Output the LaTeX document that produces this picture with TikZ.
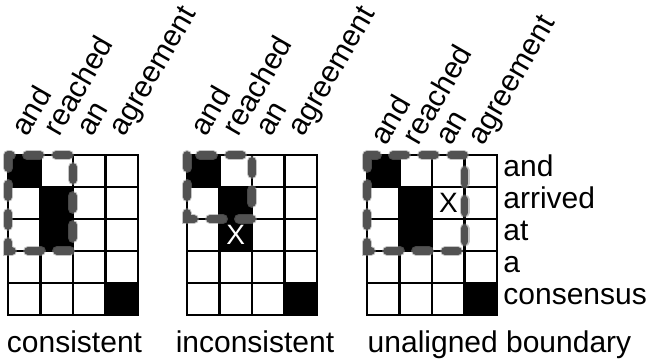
\documentclass[tikz,border=0pt]{standalone}
\usepackage{fontspec}
\setmainfont{Liberation Sans}
\newcommand{\lblfont}{\fontsize{15}{18}\selectfont}
\newcommand{\xfont}{\fontsize{14}{16}\selectfont}

\begin{document}
\begin{tikzpicture}[
    x=0.5pt, y=0.5pt,
    cellblk/.style = {fill=black},
    gridln/.style  = {black, line width=1.4pt, line cap=rect},
    boxblur/.style = {draw=black!45, line width=5pt, line cap=round, dash pattern=on 6.5pt off 8pt, opacity=0.5},
    boxdash/.style = {draw=black!68, line width=3.8pt, line cap=round, dash pattern=on 6.5pt off 8pt},
    collbl/.style  = {font=\lblfont, rotate=60, anchor=base west, inner sep=0pt},
    rowlbl/.style  = {font=\lblfont, anchor=mid west, inner sep=0pt},
    caplbl/.style  = {font=\lblfont, anchor=base, inner sep=0pt},
    xmark/.style   = {font=\xfont, inner sep=0pt}
  ]
  \useasboundingbox (0,0) rectangle (646,362);

  % three alignment grids, 4 columns x 5 rows
  \foreach \gx/\gn/\ly in {8/1/224, 187/2/224, 367/3/215}{
    \foreach \c/\r in {1/1, 2/2, 2/3, 4/5}
      \fill[cellblk] (\gx+\c*32.5-32.5, 239-\r*32) rectangle (\gx+\c*32.5, 207-\r*32);
    \foreach \i in {0,...,4}
      \draw[gridln] (\gx+\i*32.5, 47) -- (\gx+\i*32.5, 207);
    \foreach \j in {0,...,5}
      \draw[gridln] (\gx, 47+\j*32) -- (\gx+130, 47+\j*32);
    \foreach \w [count=\c] in {and, reached, an, agreement}
      \node[collbl] (col\gn-\c) at (\gx+\c*32.5-13.25, \ly) {\w};
  }

  % phrase boxes
  \foreach \xa/\xb/\yb in {8/73/111, 187/252/143, 367/464.5/111}{
    \draw[boxblur] (\xa,207) rectangle (\xb,\yb);
    \draw[boxdash] (\xa,207) rectangle (\xb,\yb);
  }

  \node[xmark, text=white] (xinc) at (235.75,127) {X};
  \node[xmark] (xuna) at (448.5,159) {X};

  \foreach \w [count=\r] in {and, arrived, at, a, consensus}
    \node[rowlbl] (row\r) at (503, 223-\r*32) {\w};

  \node[caplbl] (capA) at (74.5,9) {consistent};
  \node[caplbl] (capB) at (255,9) {inconsistent};
  \node[caplbl] (capC) at (499.5,9) {unaligned boundary};
\end{tikzpicture}
\end{document}
